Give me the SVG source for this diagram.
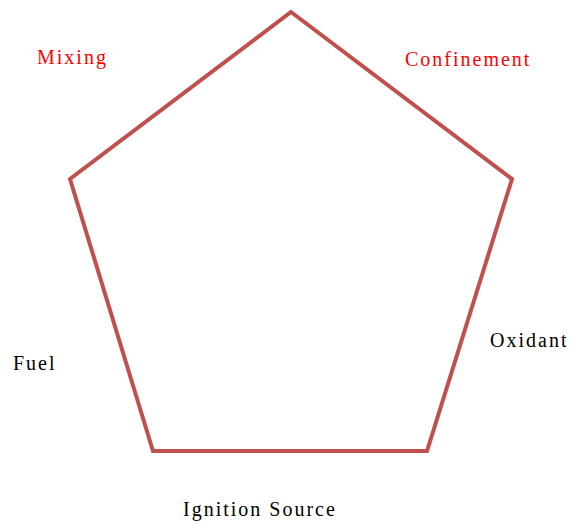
<svg xmlns="http://www.w3.org/2000/svg" width="572" height="525" viewBox="0 0 572 525">
<style>
text{font-family:"Liberation Serif","Times New Roman",Times,serif;font-size:20px;letter-spacing:2px}
.r{fill:#ff0000}
.k{fill:#000}
.edge{fill:none;stroke:#c0504d;stroke-width:4;stroke-linejoin:miter}
</style>
<rect width="572" height="525" fill="#fff"/>
<g id="connectors">
<polygon class="edge" points="291,12 512,179 427,451 153,451 70,179"/>
</g>
<g id="mixing"><text class="r" x="37" y="64">Mixing</text></g>
<g id="confinement"><text class="r" x="405" y="66">Confinement</text></g>
<g id="fuel"><text class="k" x="13" y="370">Fuel</text></g>
<g id="oxidant"><text class="k" x="490" y="347">Oxidant</text></g>
<g id="ignition"><text class="k" x="183" y="516">Ignition Source</text></g>
</svg>
